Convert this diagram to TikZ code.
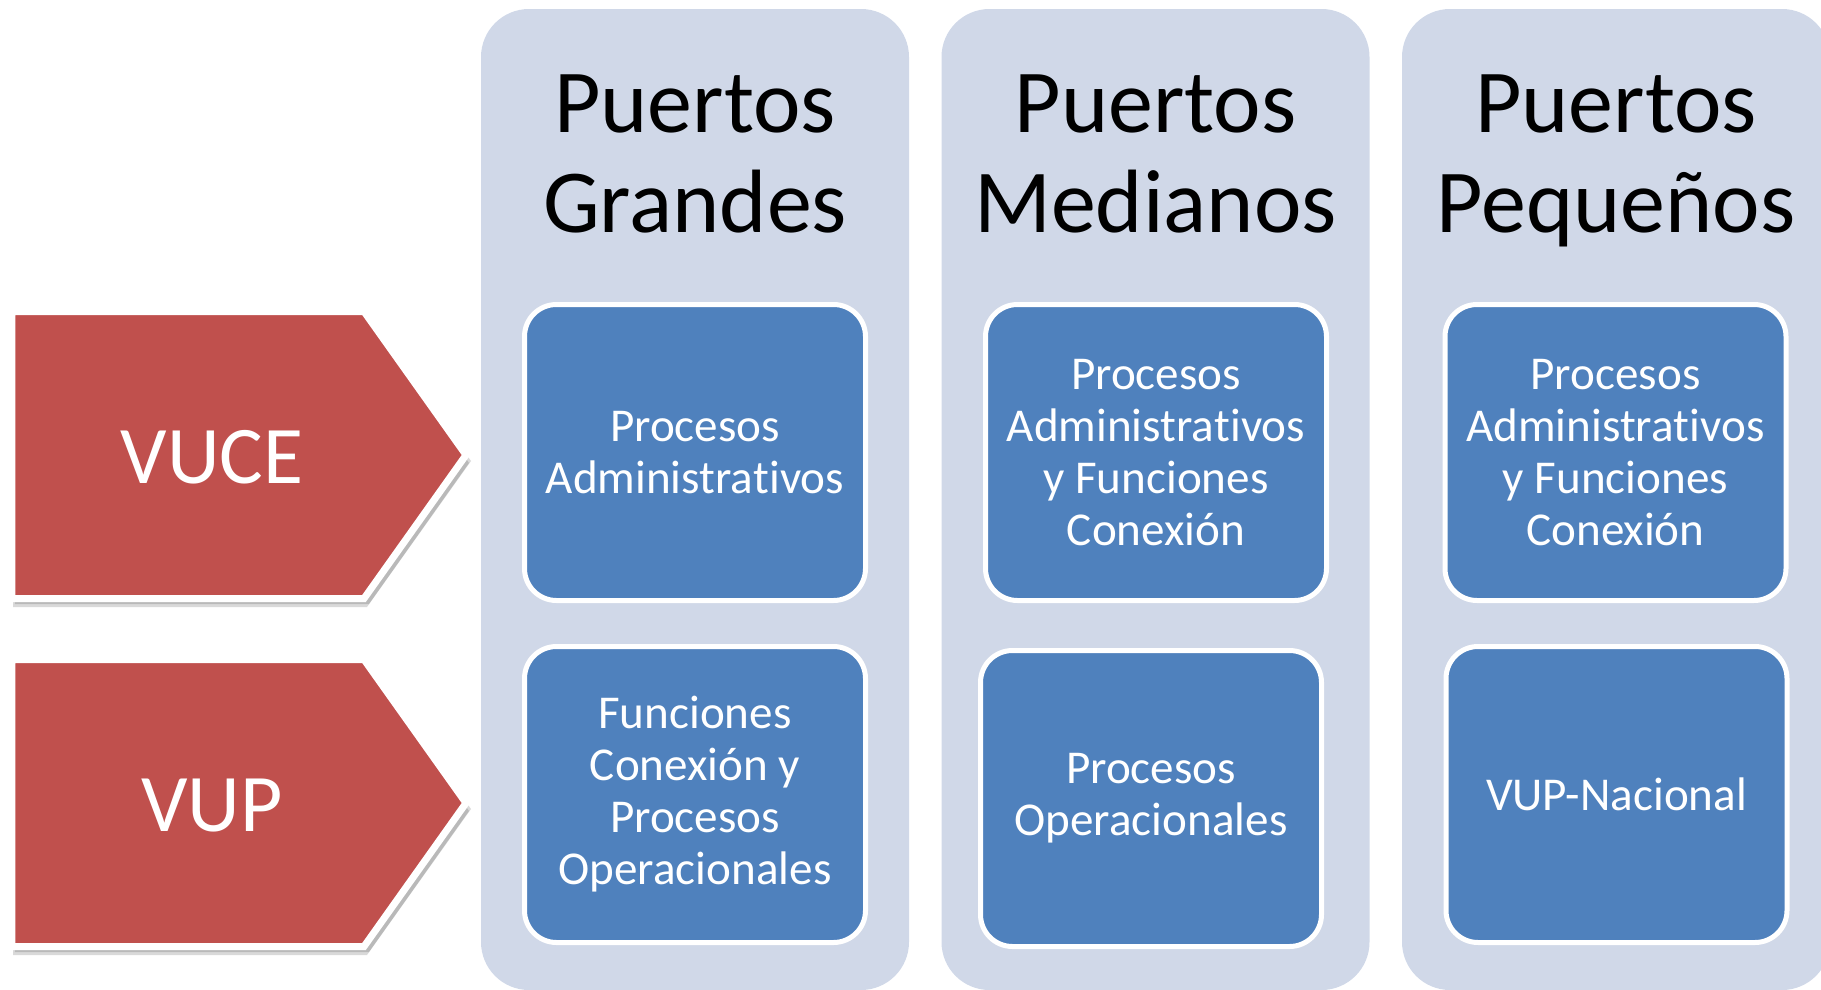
\documentclass[tikz,border=0pt]{standalone}
\usepackage{fontspec}
\setmainfont{Carlito}[Ligatures=NoCommon, Contextuals=NoAlternate]
\definecolor{colfill}{HTML}{D0D8E8}
\definecolor{boxfill}{HTML}{4F81BD}
\definecolor{tagred}{HTML}{C0504D}

\begin{document}
\begin{tikzpicture}[
		column/.style={fill=colfill, rounded corners=0.48cm},
		title/.style={anchor=base, align=center, font=\fontsize{25.6pt}{28.2pt}\selectfont},
		port/.style={draw=white, line width=0.05cm, fill=boxfill, rounded corners=0.32cm,
			minimum width=3.41cm, minimum height=2.96cm, inner sep=0pt,
			text=white, align=center, font=\fontsize{13.4pt}{14.8pt}\selectfont},
		tag/.style={draw=white, line width=0.07cm, fill=tagred, line join=miter},
		tagshadow/.style={fill=black, opacity=0.15},
		tagtext/.style={anchor=base, text=white, font=\fontsize{23.3pt}{28pt}\selectfont}
	]
		\useasboundingbox (0,0) rectangle (18.21,9.89);
		\clip (0,0) rectangle (18.21,9.89);

		% Draw Columns
		\fill[column] (4.81,-0.01) rectangle (9.09,9.80);
		\fill[column] (9.415,-0.01) rectangle (13.695,9.80);
		\fill[column] (14.02,-0.01) rectangle (18.30,9.80);

		% Column titles (base = last line)
		\node[title] (grandes) at (6.95,7.57) {Puertos\\Grandes};
		\node[title] (medianos) at (11.555,7.57) {Puertos\\Medianos};
		\node[title] (pequenos) at (16.16,7.57) {Puertos\\Pequeños};

		% Boxes
		\node[port] (gadmin) at (6.95,5.365) {Procesos\\Administra\kern0pt tivos};
		\node[port] (goper) at (6.95,1.945) {Funciones\\Conexión y\\Procesos\\Operacionales};
		\node[port] (madmin) at (11.56,5.365) {Procesos\\Administra\kern0pt tivos\\y Funciones\\Conexión};
		\node[port] (moper) at (11.51,1.905) {Procesos\\Operacionales};
		\node[port] (padmin) at (16.155,5.365) {Procesos\\Administra\kern0pt tivos\\y Funciones\\Conexión};
		\node[port] (pnac) at (16.165,1.945) {VUP-Nacional};

		% Draw Tags
		\foreach \y/\name in {5.34/VUCE, 1.86/VUP} {
			\fill[tagshadow] (0.13,\y+1.39) -- (3.67,\y+1.39) -- (4.71,\y-0.06) -- (3.67,\y-1.52) -- (0.13,\y-1.52) -- cycle;
			\fill[tagshadow] (0.15,\y+1.37) -- (3.69,\y+1.37) -- (4.69,\y-0.08) -- (3.69,\y-1.49) -- (0.15,\y-1.49) -- cycle;
			\draw[tag] (0.12,\y+1.435) -- (3.64,\y+1.435) -- (4.66,\y) -- (3.64,\y-1.435) -- (0.12,\y-1.435) -- cycle;
			\node[tagtext] (\name) at (2.12,\y-0.285) {\name};
		}
	\end{tikzpicture}
\end{document}
